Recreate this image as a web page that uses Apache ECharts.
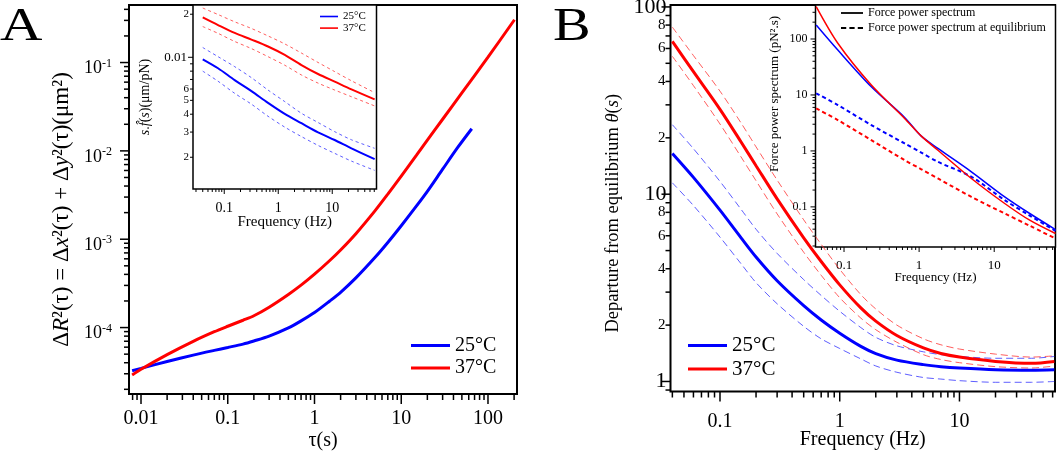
<!DOCTYPE html>
<html>
<head>
<meta charset="utf-8">
<script src="https://cdn.jsdelivr.net/npm/echarts@6/dist/echarts.min.js"></script>
<style>
  html, body { margin: 0; padding: 0; background: #fff; }
  #chart { width: 1059px; height: 452px; }
</style>
</head>
<body>
<div id="chart"></div>
<script>
const FONT = '"Liberation Serif", "Times New Roman", serif'
const BLUE = '#0000ff'
const RED = '#ff0000'
const BLUE_D = 'rgba(40,40,255,0.75)'
const RED_D = 'rgba(255,40,40,0.75)'

// --- panel A, main: mean square displacement vs lag time
const tauBlue = [0.0079, 0.01, 0.02, 0.04, 0.07, 0.1, 0.15, 0.2, 0.3, 0.5, 0.7, 1, 1.5, 2, 3, 5, 7, 10, 15, 20, 30, 45, 65]
const msdBlue = [3.25e-5, 3.45e-5, 4.13e-5, 4.88e-5, 5.52e-5, 5.95e-5, 6.5e-5, 7.05e-5, 8.0e-5, 9.9e-5, 1.19e-4, 1.48e-4, 2.0e-4, 2.51e-4, 3.65e-4, 6.24e-4, 9.18e-4, 1.42e-3, 2.38e-3, 3.48e-3, 6.2e-3, 1.1e-2, 1.78e-2]
const tauRed = [0.0079, 0.01, 0.02, 0.04, 0.07, 0.1, 0.15, 0.2, 0.3, 0.5, 0.7, 1, 1.5, 2, 3, 5, 7, 10, 15, 20, 30, 50, 100, 202]
const msdRed = [2.9e-5, 3.37e-5, 4.94e-5, 6.98e-5, 8.97e-5, 1.035e-4, 1.21e-4, 1.36e-4, 1.7e-4, 2.37e-4, 3.02e-4, 4.02e-4, 5.74e-4, 7.55e-4, 1.156e-3, 2.11e-3, 3.24e-3, 5.19e-3, 8.93e-3, 1.32e-2, 2.28e-2, 4.54e-2, 0.115, 0.305]

// --- panel A, inset: s.f(s) vs frequency
const fInsetA = [0.04, 0.0768, 0.156, 0.319, 0.647, 1.32, 2.69, 5.46, 11.1, 22.7, 61]
const sfRed = [0.019, 0.0168, 0.0148, 0.0133, 0.0119, 0.0104, 0.00883, 0.00764, 0.00676, 0.00597, 0.00508]
const sfRedHi = [0.0221, 0.0199, 0.0177, 0.0159, 0.0141, 0.0124, 0.0107, 0.0092, 0.00794, 0.00685, 0.00566]
const sfRedLo = [0.0164, 0.0147, 0.0129, 0.0115, 0.0101, 0.0088, 0.00752, 0.0066, 0.0059, 0.0053, 0.00457]
const sfBlue = [0.00968, 0.00838, 0.00693, 0.0058, 0.0048, 0.00402, 0.00346, 0.00299, 0.00264, 0.00231, 0.00194]
const sfBlueHi = [0.0117, 0.0101, 0.0086, 0.0072, 0.0059, 0.0049, 0.00406, 0.0035, 0.00302, 0.00265, 0.00231]
const sfBlueLo = [0.008, 0.0068, 0.0056, 0.0047, 0.00387, 0.00325, 0.00279, 0.00242, 0.00213, 0.00188, 0.00162]

// --- panel B, main: departure from equilibrium
const fMainB = [0.04, 0.06, 0.1, 0.15, 0.2, 0.3, 0.5, 0.7, 1, 1.5, 2, 3, 5, 7, 10, 20, 40, 62]
const thRed = [65.5, 45.1, 28.4, 19.0, 14.2, 9.44, 5.85, 4.37, 3.28, 2.47, 2.1, 1.76, 1.51, 1.41, 1.35, 1.28, 1.25, 1.28]
const thRedHi = [78.0, 55.0, 35.5, 24.0, 17.9, 11.9, 7.3, 5.4, 3.97, 2.91, 2.44, 2.0, 1.69, 1.57, 1.49, 1.4, 1.35, 1.37]
const thRedLo = [54.5, 38.0, 23.7, 15.8, 11.8, 7.85, 4.9, 3.69, 2.8, 2.18, 1.89, 1.62, 1.39, 1.31, 1.26, 1.2, 1.18, 1.21]
const thBlue = [16.5, 12.3, 8.22, 5.85, 4.62, 3.45, 2.54, 2.13, 1.81, 1.54, 1.41, 1.3, 1.23, 1.2, 1.18, 1.155, 1.148, 1.155]
const thBlueHi = [23.5, 17.5, 11.7, 8.3, 6.5, 4.83, 3.5, 2.88, 2.37, 1.94, 1.72, 1.55, 1.44, 1.39, 1.36, 1.33, 1.33, 1.36]
const thBlueLo = [11.5, 8.7, 5.9, 4.25, 3.37, 2.6, 1.97, 1.69, 1.5, 1.32, 1.21, 1.12, 1.05, 1.03, 1.01, 0.99, 0.99, 1.0]

// --- panel B, inset: force power spectrum
const fInsetB = [0.0426, 0.0827, 0.231, 0.641, 1.07, 1.78, 4.97, 13.8, 29.7, 65.5]
const psRed = [378, 83.8, 15.0, 3.81, 1.84, 1.03, 0.322, 0.115, 0.0578, 0.0334]
const psBlue = [178, 63.5, 14.0, 3.97, 1.84, 1.11, 0.423, 0.151, 0.0762, 0.0394]
const psRedEq = [5.75, 3.56, 1.56, 0.684, 0.47, 0.322, 0.151, 0.0762, 0.046, 0.0272]
const psBlueEq = [10.7, 6.6, 2.9, 1.36, 0.93, 0.638, 0.345, 0.132, 0.07, 0.0372]

// --- tick labels
const aMainXTicks = [0.01, 0.1, 1, 10, 100]
const aMainXLabels = ['0.01', '0.1', '1', '10', '100']
const aMainYTicks = [1e-4, 1e-3, 1e-2, 1e-1]
const aMainYExps = ['-4', '-3', '-2', '-1']
const freqTicks = [0.1, 1, 10]
const freqLabels = ['0.1', '1', '10']
const aInsetYTicks = [0.01]
const aInsetYLabels = ['0.01']
const aInsetYMinorTicks = [0.02, 0.006, 0.005, 0.004, 0.003, 0.002]
const aInsetYMinorLabels = ['2', '6', '5', '4', '3', '2']
const bMainYTicks = [1, 10, 100]
const bMainYLabels = ['1', '10', '100']
const bMainYMinorTicks = [80, 60, 40, 20, 8, 6, 4, 2]
const bMainYMinorLabels = ['8', '6', '4', '2', '8', '6', '4', '2']
const bInsetYTicks = [0.1, 1, 10, 100]
const bInsetYLabels = ['0.1', '1', '10', '100']

// axis ranges (grid 0: A main, 1: A inset, 2: B main, 3: B inset)
const ranges = [
  { x: [0.00727, 216], y: [1.77e-5, 0.448] },
  { x: [0.0264, 66], y: [0.0012, 0.0232] },
  { x: [0.0386, 62.8], y: [0.884, 102.4] },
  { x: [0.0417, 65.5], y: [0.0192, 405] },
]

const zip = (xs, ys) => xs.map((x, i) => [x, ys[i]])

const pick = (ticks, labels) => (v) => {
  const i = ticks.findIndex((t) => Math.abs(Math.log10(v / t)) < 1e-6)
  return i < 0 ? '' : labels[i]
}

// 1..9 x 10^k inside a range, for log-axis tick marks
function decadeTicks(min, max) {
  const major = []
  const minor = []
  for (let e = Math.floor(Math.log10(min)); e <= Math.ceil(Math.log10(max)); e++) {
    for (let m = 1; m <= 9; m++) {
      const v = +(m * Math.pow(10, e)).toPrecision(6)
      if (v < min || v > max) continue
      ;(m === 1 ? major : minor).push(v)
    }
  }
  return { major, minor }
}

function tickSeries(gi, dir, majorLen, minorLen, width) {
  const r = ranges[gi]
  const t = decadeTicks(dir === 'x' ? r.x[0] : r.y[0], dir === 'x' ? r.x[1] : r.y[1])
  const rows = t.major.map((v) => [v, majorLen]).concat(t.minor.map((v) => [v, minorLen]))
  return {
    type: 'custom',
    xAxisIndex: gi,
    yAxisIndex: gi,
    silent: true,
    z: 6,
    encode: { x: 0, y: 1 },
    data: rows.map((row) => (dir === 'x' ? [row[0], r.y[0], row[1]] : [r.x[0], row[0], row[1]])),
    renderItem(params, api) {
      const cs = params.coordSys
      const p = api.coord([api.value(0), api.value(1)])
      const len = api.value(2)
      const shape =
        dir === 'x'
          ? { x1: p[0], y1: cs.y + cs.height, x2: p[0], y2: cs.y + cs.height + len }
          : { x1: cs.x, y1: p[1], x2: cs.x - len, y2: p[1] }
      return { type: 'line', shape, style: { stroke: '#000', lineWidth: width } }
    },
  }
}

function minorLabelSeries(gi, values, labels, offset, fontSize) {
  const r = ranges[gi]
  return {
    type: 'custom',
    xAxisIndex: gi,
    yAxisIndex: gi,
    silent: true,
    z: 6,
    encode: { x: 0, y: 1 },
    data: values.map((v) => [r.x[0], v]),
    renderItem(params, api) {
      const p = api.coord([api.value(0), api.value(1)])
      return {
        type: 'text',
        x: params.coordSys.x - offset,
        y: p[1],
        style: {
          text: labels[params.dataIndex],
          fontSize,
          fontFamily: FONT,
          fill: '#000',
          align: 'right',
          verticalAlign: 'middle',
        },
      }
    },
  }
}

function logAxis(gi, dir, formatter, fontSize, margin, extra) {
  const r = ranges[gi]
  return Object.assign(
    {
      type: 'log',
      logBase: 10,
      gridIndex: gi,
      min: dir === 'x' ? r.x[0] : r.y[0],
      max: dir === 'x' ? r.x[1] : r.y[1],
      nameMoveOverlap: false,
      axisLine: { show: false },
      axisTick: { show: false },
      splitLine: { show: false },
      axisLabel: { formatter, fontSize, fontFamily: FONT, color: '#000', margin },
      nameTextStyle: { fontFamily: FONT, color: '#000' },
    },
    extra || {}
  )
}

function line(name, gi, xs, ys, color, width, dash) {
  return {
    name,
    type: 'line',
    xAxisIndex: gi,
    yAxisIndex: gi,
    data: zip(xs, ys),
    symbol: 'none',
    smooth: 0.3,
    z: dash ? 3 : 4,
    itemStyle: { color },
    lineStyle: { color, width, type: dash || 'solid' },
  }
}

const gridBox = (left, top, width, height, bw) => ({
  left, top, width, height,
  containLabel: false,
  outerBoundsMode: 'none',
  show: true,
  borderColor: '#000',
  borderWidth: bw,
  backgroundColor: '#fff',
})

const legendBase = { orient: 'vertical', padding: 0, selectedMode: false, symbolKeepAspect: false }
const DASH_ICON = 'path://M0,0h5v1h-5z M8,0h5v1h-5z M16,0h5v1h-5z'

const option = {
  animation: false,
  backgroundColor: '#fff',
  grid: [
    gridBox(129, 5, 388, 389, 2),
    gridBox(193, 5, 183.5, 184, 1.5),
    gridBox(670.5, 5, 384.5, 386.5, 2),
    gridBox(815.5, 5, 240, 242, 1.5),
  ],
  xAxis: [
    logAxis(0, 'x', pick(aMainXTicks, aMainXLabels), 20, 15, {
      name: 'τ(s)', nameLocation: 'middle', nameGap: 37,
      nameTextStyle: { fontFamily: FONT, fontSize: 20, color: '#000' },
    }),
    logAxis(1, 'x', pick(freqTicks, freqLabels), 14, 12, {
      name: 'Frequency (Hz)', nameLocation: 'middle', nameGap: 26,
      nameTextStyle: { fontFamily: FONT, fontSize: 15, color: '#000' },
    }),
    logAxis(2, 'x', pick(freqTicks, freqLabels), 20, 20, {
      name: 'Frequency (Hz)', nameLocation: 'middle', nameGap: 38,
      nameTextStyle: { fontFamily: FONT, fontSize: 20, color: '#000' },
    }),
    logAxis(3, 'x', pick(freqTicks, freqLabels), 13, 12, {
      name: 'Frequency (Hz)', nameLocation: 'middle', nameGap: 24,
      nameTextStyle: { fontFamily: FONT, fontSize: 13, color: '#000' },
    }),
  ],
  yAxis: [
    logAxis(0, 'y', (v) => {
      const s = pick(aMainYTicks, aMainYExps)(v)
      return s ? `{b|10}{s|${s}}` : ''
    }, 18, 17, {
      name: '{n|Δ}{i|R}{n|²(τ) = Δ}{i|x}{n|²(τ) + Δ}{i|y}{n|²(τ)(μm²)}',
      nameLocation: 'middle', nameRotate: 90, nameGap: 56,
      nameTextStyle: {
        padding: [0, 20, 0, 0],
        rich: {
          n: { fontFamily: FONT, fontSize: 23, color: '#000' },
          i: { fontFamily: FONT, fontSize: 23, fontStyle: 'italic', color: '#000' },
        },
      },
    }),
    logAxis(1, 'y', pick(aInsetYTicks, aInsetYLabels), 13, 6, {
      name: '{i|s}{n|.}{i|f̂}{n|(}{i|s}{n|)(μm/pN)}',
      nameLocation: 'middle', nameRotate: 90, nameGap: 41,
      nameTextStyle: {
        rich: {
          n: { fontFamily: FONT, fontSize: 14, color: '#000' },
          i: { fontFamily: FONT, fontSize: 14, fontStyle: 'italic', color: '#000' },
        },
      },
    }),
    logAxis(2, 'y', pick(bMainYTicks, bMainYLabels), 22, 4, {
      name: '{n|Departure from equilibrium }{i|θ}{n|(}{i|s}{n|)}',
      nameLocation: 'middle', nameRotate: 90, nameGap: 48,
      nameTextStyle: {
        padding: [0, 30, 0, 0],
        rich: {
          n: { fontFamily: FONT, fontSize: 18.5, color: '#000' },
          i: { fontFamily: FONT, fontSize: 18.5, fontStyle: 'italic', color: '#000' },
        },
      },
    }),
    logAxis(3, 'y', pick(bInsetYTicks, bInsetYLabels), 12, 8, {
      name: 'Force power spectrum (pN².s)',
      nameLocation: 'middle', nameRotate: 90, nameGap: 34,
      nameTextStyle: { fontFamily: FONT, fontSize: 13, color: '#000', padding: [0, 0, 0, 64] },
    }),
  ],
  legend: [
    Object.assign({}, legendBase, {
      data: ['25°C', '37°C'], left: 411, top: 335.5, icon: 'rect',
      itemWidth: 39, itemHeight: 3, itemGap: 2.6,
      textStyle: { fontFamily: FONT, fontSize: 20, color: '#000' },
    }),
    Object.assign({}, legendBase, {
      data: ['25°C', '37°C'], left: 320, top: 11, icon: 'rect',
      itemWidth: 18, itemHeight: 1.6, itemGap: 0.6,
      textStyle: { fontFamily: FONT, fontSize: 11, color: '#000' },
    }),
    Object.assign({}, legendBase, {
      data: ['25°C', '37°C'], left: 688, top: 335, icon: 'rect',
      itemWidth: 39, itemHeight: 3, itemGap: 2.6,
      textStyle: { fontFamily: FONT, fontSize: 21, color: '#000' },
    }),
    Object.assign({}, legendBase, {
      data: [
        { name: 'Force power spectrum', icon: 'rect' },
        { name: 'Force power spectrum at equilibrium', icon: DASH_ICON },
      ],
      left: 841, top: 7, itemWidth: 22, itemHeight: 1.8, itemGap: 3,
      textStyle: { fontFamily: FONT, fontSize: 12, color: '#000' },
    }),
  ],
  graphic: [
    { type: 'text', x: 0, y: 4, scaleX: 1.25, style: { text: 'A', fontSize: 47, fontFamily: FONT, fill: '#000' } },
    { type: 'text', x: 553, y: 4, scaleX: 1.2, style: { text: 'B', fontSize: 47, fontFamily: FONT, fill: '#000' } },
  ],
  series: [
    // A main
    line('25°C', 0, tauBlue, msdBlue, BLUE, 3),
    line('37°C', 0, tauRed, msdRed, RED, 3),
    // A inset
    line('25°C', 1, fInsetA, sfBlue, BLUE, 2),
    line('37°C', 1, fInsetA, sfRed, RED, 2),
    line('25°C +', 1, fInsetA, sfBlueHi, BLUE_D, 1, [3, 3]),
    line('25°C -', 1, fInsetA, sfBlueLo, BLUE_D, 1, [3, 3]),
    line('37°C +', 1, fInsetA, sfRedHi, RED_D, 1, [3, 3]),
    line('37°C -', 1, fInsetA, sfRedLo, RED_D, 1, [3, 3]),
    // B main
    line('25°C', 2, fMainB, thBlue, BLUE, 3),
    line('37°C', 2, fMainB, thRed, RED, 3),
    line('25°C +', 2, fMainB, thBlueHi, BLUE_D, 1, [7, 4]),
    line('25°C -', 2, fMainB, thBlueLo, BLUE_D, 1, [7, 4]),
    line('37°C +', 2, fMainB, thRedHi, RED_D, 1, [7, 4]),
    line('37°C -', 2, fMainB, thRedLo, RED_D, 1, [7, 4]),
    // B inset
    line('25°C', 3, fInsetB, psBlue, BLUE, 1.5),
    line('37°C', 3, fInsetB, psRed, RED, 1.5),
    line('25°C eq', 3, fInsetB, psBlueEq, BLUE, 2, [4, 3]),
    line('37°C eq', 3, fInsetB, psRedEq, RED, 2, [4, 3]),
    // legend-only entries for the inset B line styles
    line('Force power spectrum', 3, [], [], '#000', 1.5),
    line('Force power spectrum at equilibrium', 3, [], [], '#000', 2, [4, 3]),
    // tick marks
    tickSeries(0, 'x', 10, 6, 1.5),
    tickSeries(0, 'y', 9, 5, 1.5),
    tickSeries(1, 'x', 5, 3, 1),
    tickSeries(1, 'y', 5, 3, 1),
    tickSeries(2, 'x', 10, 6, 1.5),
    tickSeries(2, 'y', 9, 5, 1.5),
    tickSeries(3, 'x', 5, 3, 1),
    tickSeries(3, 'y', 5, 3, 1),
    minorLabelSeries(1, aInsetYMinorTicks, aInsetYMinorLabels, 4, 11),
    minorLabelSeries(2, bMainYMinorTicks, bMainYMinorLabels, 5, 15),
  ],
}

// superscript exponent labels for the panel A y axis
option.yAxis[0].axisLabel.padding = [12, 0, 0, 0]
option.yAxis[0].axisLabel.rich = {
  b: { fontFamily: FONT, fontSize: 18, lineHeight: 22, color: '#000' },
  s: { fontFamily: FONT, fontSize: 12, lineHeight: 12, verticalAlign: 'top', color: '#000' },
}

const chart = echarts.init(document.getElementById('chart'))
chart.setOption(option)
window.addEventListener('resize', () => chart.resize())
</script>
</body>
</html>
